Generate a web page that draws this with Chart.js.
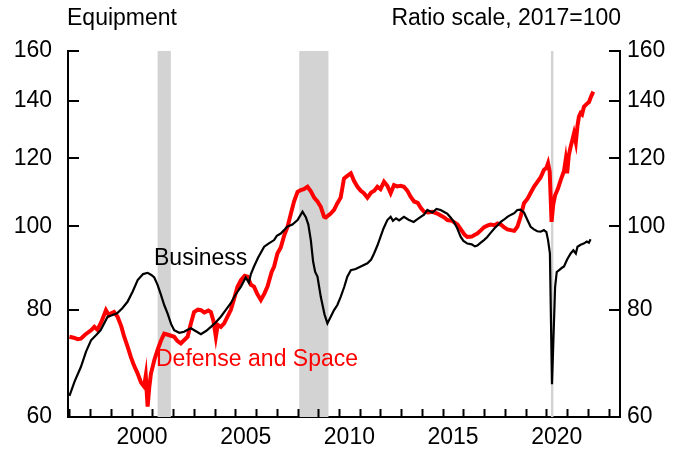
<!DOCTYPE html>
<html>
<head>
<meta charset="utf-8">
<script src="https://cdn.jsdelivr.net/npm/chart.js@4"></script>
<style>
html,body{margin:0;padding:0;background:#fff;}
#wrap{position:relative;width:682px;height:451px;}
</style>
</head>
<body>
<div id="wrap"><canvas id="c" width="682" height="451"></canvas></div>
<script>
// ---- data ----
const bizDates = [1997.0,1997.25,1997.55,1997.8,1998.04,1998.3,1998.5,1998.84,1999.05,1999.3,1999.55,1999.8,2000.05,2000.29,2000.55,2000.77,2000.95,2001.09,2001.25,2001.41,2001.57,2001.73,2001.9,2002.05,2002.3,2002.53,2002.7,2002.86,2003.1,2003.34,2003.6,2003.82,2004.05,2004.3,2004.55,2004.78,2005.0,2005.27,2005.5,2005.65,2005.75,2005.9,2006.1,2006.39,2006.6,2006.87,2007.0,2007.19,2007.35,2007.5,2007.75,2008.0,2008.24,2008.4,2008.52,2008.64,2008.75,2008.85,2008.96,2009.12,2009.3,2009.44,2009.6,2009.76,2009.92,2010.08,2010.25,2010.4,2010.57,2010.8,2011.05,2011.37,2011.55,2011.69,2011.85,2012.0,2012.15,2012.33,2012.49,2012.6,2012.75,2012.9,2013.13,2013.35,2013.6,2013.75,2013.94,2014.1,2014.26,2014.5,2014.7,2014.9,2015.05,2015.23,2015.4,2015.54,2015.7,2015.87,2016.0,2016.19,2016.4,2016.55,2016.67,2016.85,2016.99,2017.15,2017.3,2017.5,2017.65,2017.8,2017.95,2018.12,2018.3,2018.45,2018.6,2018.75,2018.92,2019.08,2019.24,2019.4,2019.56,2019.72,2019.88,2020.0,2020.08,2020.17,2020.27,2020.34,2020.42,2020.5,2020.6,2020.75,2020.85,2021.0,2021.17,2021.3,2021.42,2021.5,2021.65,2021.8,2021.95,2022.05,2022.13];
const bizValues = [63.5,66,68.6,71.5,73.7,74.8,75.7,78.5,78.8,79.2,80.3,81.7,84,86.6,88,88.3,87.8,87.2,85.5,83.3,81,79.2,77,75.7,75.2,75.4,75.8,76.1,75.5,74.9,75.6,76.4,77.3,78.5,80,81.4,83.2,85.1,87.2,86,88,89.8,92,94.7,95.5,96.4,97.5,98.1,99,99.9,100.5,101.7,104,102.5,100.5,96.4,91,88.5,87.4,82.8,79,77.1,78.5,79.9,81,82.8,85,87.4,88.9,89.2,89.8,90.6,91.5,93,95,97.2,99.5,101.7,102.6,101.5,102.2,101.6,102.6,101.8,101.2,101.8,102.6,103.2,104.5,103.8,104.8,104.5,104,103.4,102.3,101.2,99.5,97.2,96.2,95.5,95.3,94.8,95,95.8,96.4,97.2,98.2,99.5,100.3,101.2,101.8,102.6,103.2,103.6,104.5,104.6,103.8,101.8,99.9,99.2,98.7,98.6,99,98.5,96.4,93,65.5,74,85,88.5,88.9,89.5,89.8,91.5,93,93.8,93,94.7,95.2,95.5,96,95.7,96.6];

const defDates = [1997.0,1997.2,1997.4,1997.55,1997.75,1998.04,1998.2,1998.35,1998.55,1998.76,1998.9,1999.0,1999.15,1999.32,1999.5,1999.64,1999.8,1999.96,2000.1,2000.29,2000.45,2000.6,2000.68,2000.77,2000.85,2000.93,2001.1,2001.25,2001.4,2001.57,2001.75,2001.9,2002.05,2002.2,2002.37,2002.55,2002.7,2002.85,2003.01,2003.2,2003.34,2003.5,2003.7,2003.82,2003.95,2004.06,2004.15,2004.3,2004.46,2004.62,2004.78,2004.95,2005.1,2005.27,2005.45,2005.59,2005.75,2005.9,2006.05,2006.23,2006.4,2006.55,2006.75,2006.87,2007.03,2007.19,2007.35,2007.52,2007.68,2007.83,2008.0,2008.15,2008.3,2008.48,2008.65,2008.8,2008.96,2009.12,2009.28,2009.36,2009.6,2009.76,2009.92,2010.08,2010.24,2010.4,2010.57,2010.72,2010.89,2011.05,2011.2,2011.37,2011.55,2011.7,2011.85,2012.0,2012.17,2012.33,2012.49,2012.65,2012.8,2012.97,2013.13,2013.3,2013.45,2013.62,2013.8,2013.95,2014.1,2014.3,2014.5,2014.74,2014.95,2015.1,2015.23,2015.45,2015.71,2015.9,2016.05,2016.19,2016.4,2016.55,2016.67,2016.85,2017.0,2017.15,2017.31,2017.5,2017.65,2017.8,2017.95,2018.12,2018.28,2018.45,2018.6,2018.75,2018.92,2019.1,2019.25,2019.4,2019.55,2019.72,2019.88,2020.0,2020.08,2020.16,2020.25,2020.33,2020.42,2020.55,2020.69,2020.85,2020.93,2021.0,2021.08,2021.17,2021.25,2021.33,2021.42,2021.5,2021.57,2021.65,2021.72,2021.81,2021.9,2021.97,2022.05,2022.15,2022.26];
const defValues = [74.4,74.2,73.9,74.0,74.8,75.7,76.4,75.8,77.5,79.9,78.8,79.2,79.5,78.5,76.5,74.4,72.5,70.5,69,67.4,65.8,65.1,67,61.7,65,67.4,70,71.8,73.5,75.0,74.8,74.6,74.4,73.6,73.1,73.8,74.4,77,79.5,80,79.9,79.4,79.8,79.5,77.5,74.4,76.8,76.4,77.1,78.5,79.9,82.5,85,86.6,87.6,87.4,85.5,85.1,83.5,82.1,83.5,85.1,88.5,89.8,93,94.5,97.5,99.9,103.5,106.9,109.7,110.2,110.5,111.2,109.8,108,106.9,105.4,102.6,102.4,103.5,104.5,106.4,108,113.7,114.5,115.3,113,111.2,110,109.3,108,109.5,110,111.2,110.5,112.7,111.5,109.3,111.7,111.3,111.5,111.2,110,108.3,106.9,106.5,105,104,103.8,104,103.5,102.8,102.3,101.7,101.5,100.5,99,97.8,97.2,97.3,97.8,98.1,99,99.8,100.2,100.5,100.3,100.8,100.5,99.8,99.2,99,98.8,99.9,102.5,106.4,107.8,109.5,111.2,112.5,114,116.3,117,118.5,115.8,101.2,106,108.7,110.5,113.2,116,119.5,115.3,121,123.8,126,128.3,125.3,131,134.2,135.5,135,137.8,138.5,139,139.5,141.5,143.5];

const recessions = [[2001.25, 2001.89], [2008.08, 2009.49], [2020.22, 2020.34]];
const yTickValues = [60, 80, 100, 120, 140, 160];
const xLabelYears = [2000, 2005, 2010, 2015, 2020];
const xTickYears = [1997,1998,1999,2000,2001,2002,2003,2004,2005,2006,2007,2008,2009,2010,2011,2012,2013,2014,2015,2016,2017,2018,2019,2020,2021,2022,2023];

const FONT = "'Liberation Sans', Arial, Helvetica, sans-serif";
Chart.defaults.font.family = FONT;
Chart.defaults.font.size = 23;
Chart.defaults.color = '#000';

const zip = (xs, ys) => xs.map((x, i) => ({x: x, y: ys[i]}));

const decor = {
  id: 'decor',
  beforeDatasetsDraw(chart) {
    const {ctx, chartArea: a, scales: {x}} = chart;
    ctx.save();
    ctx.fillStyle = '#d3d3d3';
    recessions.forEach(([s, e]) => {
      const x0 = x.getPixelForValue(s), x1 = x.getPixelForValue(e);
      ctx.fillRect(x0, a.top, x1 - x0, a.bottom - a.top);
    });
    ctx.restore();
  },
  afterDraw(chart) {
    const {ctx, chartArea: a, scales: {x, y}} = chart;
    ctx.save();
    ctx.strokeStyle = '#000';
    ctx.lineWidth = 2;
    ctx.beginPath();
    xTickYears.forEach(v => {
      const px = Math.round(x.getPixelForValue(v)) + 0.5;
      ctx.moveTo(px, a.bottom); ctx.lineTo(px, a.bottom - 8);
    });
    yTickValues.forEach(v => {
      const py = Math.round(y.getPixelForValue(v));
      ctx.moveTo(a.left, py); ctx.lineTo(a.left + 11, py);
      ctx.moveTo(a.right, py); ctx.lineTo(a.right - 11, py);
    });
    ctx.stroke();
    ctx.font = '23px ' + FONT;
    ctx.textBaseline = 'alphabetic';
    ctx.fillStyle = '#000';
    ctx.textAlign = 'left';
    ctx.fillText('Equipment', 67, 25);
    ctx.textAlign = 'right';
    ctx.fillText('Ratio scale, 2017=100', 621, 25);
    ctx.textAlign = 'left';
    ctx.fillText('Business', 154, 265);
    ctx.fillStyle = '#ff0000';
    ctx.fillText('Defense and Space', 156, 366);
    ctx.restore();
  }
};

const yCommon = {
  type: 'logarithmic',
  min: 60, max: 160,
  grid: {display: false, drawTicks: false},
  border: {display: true, color: '#000', width: 2},
  afterBuildTicks: s => { s.ticks = yTickValues.map(v => ({value: v})); },
};

new Chart(document.getElementById('c'), {
  type: 'line',
  data: {
    datasets: [
      {label: 'Business', data: zip(bizDates, bizValues), borderColor: '#000', borderWidth: 2.2, pointRadius: 0, tension: 0, order: 0},
      {label: 'Defense and Space', data: zip(defDates, defValues), borderColor: '#ff0000', borderWidth: 4, pointRadius: 0, tension: 0, order: 1}
    ]
  },
  options: {
    responsive: false,
    animation: false,
    devicePixelRatio: 1,
    layout: {padding: {top: 51, left: 0, right: 0, bottom: 0}},
    plugins: {legend: {display: false}, tooltip: {enabled: false}, title: {display: false}},
    scales: {
      x: {
        type: 'linear',
        min: 1996.93, max: 2023.55,
        grid: {display: false, drawTicks: false},
        border: {display: true, color: '#000', width: 2},
        afterBuildTicks: s => { s.ticks = xLabelYears.map(v => ({value: v + 0.5})); },
        ticks: {padding: 7, maxRotation: 0, callback: v => String(Math.floor(v))},
        afterFit: s => { s.height = 34; }
      },
      y: Object.assign({}, yCommon, {
        position: 'left',
        ticks: {padding: 16, callback: v => String(v)},
        afterFit: s => { s.width = 68; }
      }),
      y2: Object.assign({}, yCommon, {
        position: 'right',
        ticks: {padding: 7, callback: v => String(v)},
        afterFit: s => { s.width = 62; }
      })
    }
  },
  plugins: [decor]
});
</script>
</body>
</html>
